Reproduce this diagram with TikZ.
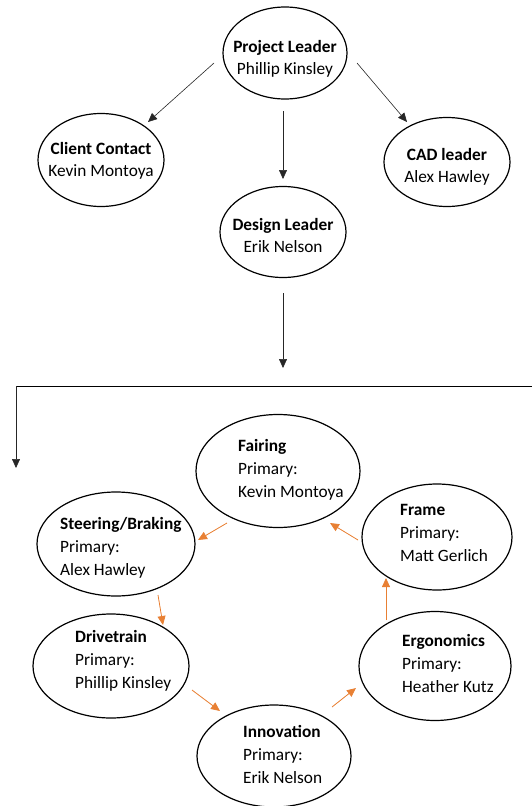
\documentclass[tikz,border=0pt]{standalone}
\usepackage{fontspec}
\setmainfont{Carlito}
\usetikzlibrary{shapes.geometric,arrows.meta,calc}
\definecolor{orgc}{RGB}{232,128,52}
\begin{document}
\begin{tikzpicture}[x=1pt,y=-1pt,
  ell/.style={draw, ellipse, line width=1.2pt, inner sep=0pt},
  lbl/.style={font=\fontsize{17.3}{22}\selectfont, align=center, inner sep=0pt},
  ltxt/.style={font=\fontsize{17.3}{23}\selectfont, align=left, inner sep=0pt, anchor=west},
  blk/.style={-{Triangle[length=9pt,width=8pt]}, line width=0.6pt, draw=black!85},
  bus/.style={line width=0.9pt, draw=black},
  org/.style={-{Triangle[length=9pt,width=8pt]}, line width=0.8pt, draw=orgc, fill=orgc}]
\useasboundingbox (0,0) rectangle (532,806);

% top ellipses
\node[ell, minimum width=124pt, minimum height=92pt] (pl) at (285,53) {};
\node[lbl] (plT) at (285,59) {\textbf{Project Leader}\\Phillip Kinsley};
\node[ell, minimum width=126pt, minimum height=93pt] (cc) at (101,160) {};
\node[lbl] (ccT) at (101,161) {\textbf{Client Contact}\\Kevin Montoya};
\node[ell, minimum width=126pt, minimum height=89pt] (cad) at (447,162) {};
\node[lbl] (cadT) at (447,167) {\textbf{CAD leader}\\Alex Hawley};
\node[ell, minimum width=126pt, minimum height=91pt] (dl) at (283,232) {};
\node[lbl] (dlT) at (283,235) {\textbf{Design Leader}\\Erik Nelson};

% black arrows
\draw[blk] ($(pl)+(-71,10)$) -- ($(cc)+(47,-38)$);
\draw[blk] ($(pl)+(72,10)$) -- ($(cad)+(-40,-40)$);
\draw[blk] ($(pl)+(-2,58)$) -- ($(dl)+(0,-53)$);
\coordinate (dlend) at (283,368);
\draw[blk] ($(dl)+(0,61)$) -- (dlend);
\coordinate (busL) at (16,386);
\coordinate (busR) at (532,386);
\coordinate (busD) at (16,468);
\draw[bus] (busL) -- (busR);
\draw[blk] (busL) -- (busD);

% lower ellipses
\node[ell, minimum width=164pt, minimum height=113pt] (fa) at (278,471) {};
\node[ltxt] (faT) at (238,470) {\textbf{Fairing}\\Primary:\\Kevin Montoya};
\node[ell, minimum width=150pt, minimum height=106pt] (fr) at (437,537) {};
\node[ltxt] (frT) at (400,533) {\textbf{Frame}\\Primary:\\Matt Gerlich};
\node[ell, minimum width=158pt, minimum height=104pt] (st) at (116,544) {};
\node[ltxt] (stT) at (60,548) {\textbf{Steering/Braking}\\Primary:\\Alex Hawley};
\node[ell, minimum width=156pt, minimum height=104pt] (dr) at (111,666) {};
\node[ltxt] (drT) at (75,661) {\textbf{Drivetrain}\\Primary:\\Phillip Kinsley};
\node[ell, minimum width=152pt, minimum height=109pt] (er) at (435,666) {};
\node[ltxt] (erT) at (402,663) {\textbf{Ergonomics}\\Primary:\\Heather Kutz};
\node[ell, minimum width=154pt, minimum height=102pt] (in) at (274,756) {};
\node[ltxt] (inT) at (243,754) {\textbf{Innovation}\\Primary:\\Erik Nelson};

% orange arrows
\draw[org] ($(fa)+(-51,52)$) -- ($(st)+(82,-4)$);
\draw[org] ($(fr)+(-79,3)$) -- ($(fa)+(52,52)$);
\draw[org] ($(st)+(42,51)$) -- ($(dr)+(52,-41)$);
\draw[org] ($(dr)+(81,24)$) -- ($(in)+(-54,-45)$);
\draw[org] ($(in)+(58,-49)$) -- ($(er)+(-79,22)$);
\draw[org] ($(er)+(-49,-46)$) -- ($(fr)+(-51,41)$);
\end{tikzpicture}
\end{document}
